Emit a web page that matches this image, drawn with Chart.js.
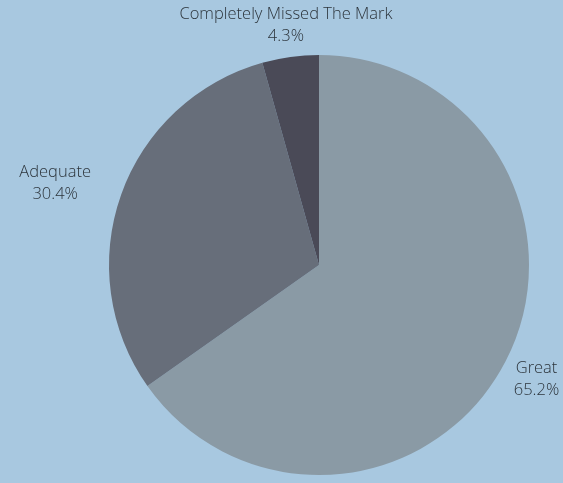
<!DOCTYPE html>
<html>
<head>
<meta charset="utf-8">
<script src="https://cdn.jsdelivr.net/npm/chart.js@4"></script>
<style>
  html, body { margin: 0; padding: 0; background: #a8c8e0; }
  #wrap { width: 563px; height: 483px; }
</style>
</head>
<body>
<div id="wrap"><canvas id="rating-chart"></canvas></div>
<script>
const categories = ["Great", "Adequate", "Completely Missed The Mark"];
const votes = [15, 7, 1];
const sliceColors = ["#8a9aa5", "#676e7a", "#4a4a57"];

// label distance from the pie centre and a small vertical nudge, per slice
const labelDistance = [245, 280, 243];
const labelNudge = [2, 12, 1];

const outsideLabels = {
  id: "outsideLabels",
  afterDatasetsDraw(chart) {
    const ctx = chart.ctx;
    const meta = chart.getDatasetMeta(0);
    const total = votes.reduce((a, b) => a + b, 0);
    ctx.save();
    ctx.font = "300 16.5px 'Open Sans'";
    ctx.fillStyle = "#2c343b";
    ctx.textAlign = "center";
    ctx.textBaseline = "middle";
    meta.data.forEach((arc, i) => {
      const mid = (arc.startAngle + arc.endAngle) / 2;
      const x = arc.x + Math.cos(mid) * labelDistance[i];
      const y = arc.y + Math.sin(mid) * labelDistance[i] + labelNudge[i];
      const pct = ((votes[i] / total) * 100).toFixed(1) + "%";
      ctx.fillText(categories[i], x, y - 11);
      ctx.fillText(pct, x, y + 11);
    });
    ctx.restore();
  },
};

new Chart("rating-chart", {
  type: "pie",
  data: {
    labels: categories,
    datasets: [
      {
        data: votes,
        backgroundColor: sliceColors,
        borderWidth: 0,
      },
    ],
  },
  options: {
    responsive: true,
    maintainAspectRatio: false,
    animation: false,
    layout: {
      padding: { top: 55, bottom: 8, left: 109, right: 34 },
    },
    plugins: {
      legend: { display: false },
      tooltip: { enabled: false },
    },
  },
  plugins: [outsideLabels],
});
</script>
</body>
</html>
